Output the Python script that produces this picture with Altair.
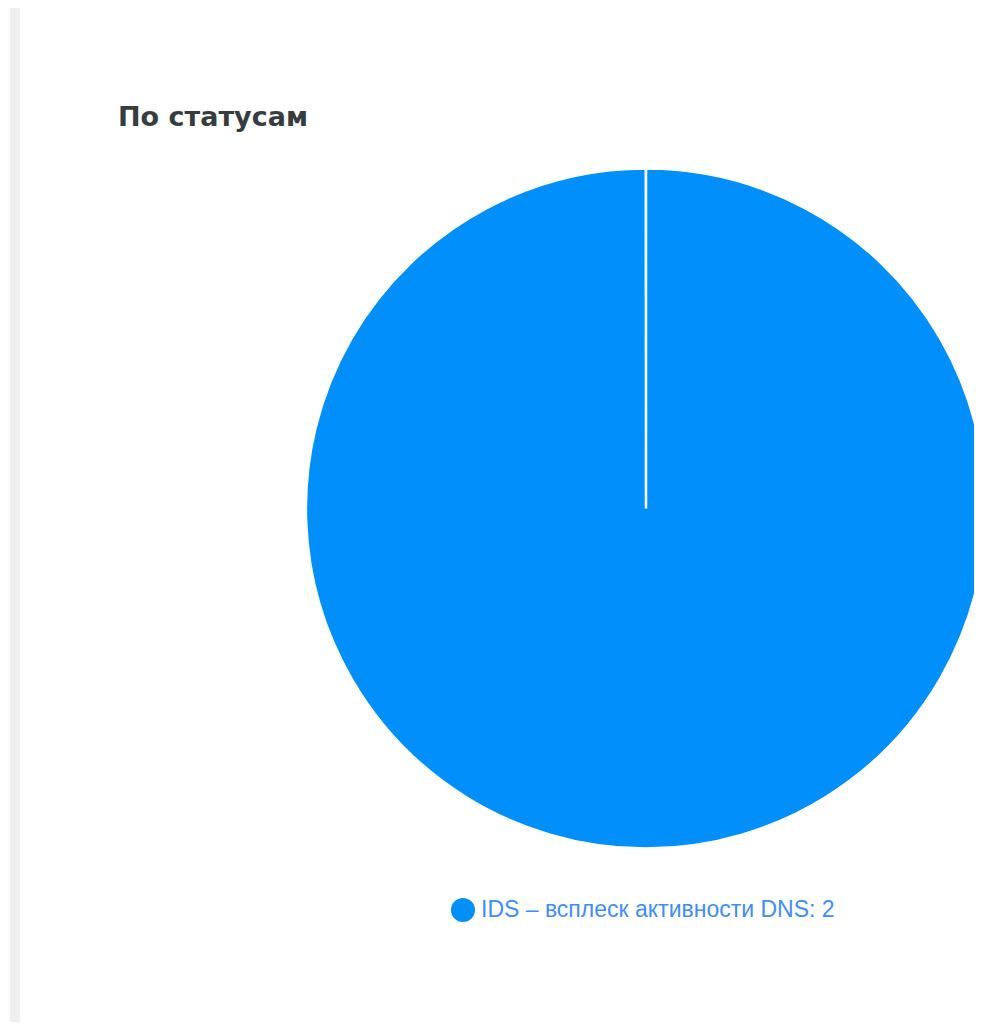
import altair as alt
import pandas as pd

categories = ["IDS – всплеск активности DNS"]
values = [2]
colors = ["#008ffb"]
title_text = "По статусам"

df = pd.DataFrame({
    "category": categories,
    "value": values,
})
df["label"] = [f"{c}: {v}" for c, v in zip(categories, values)]

W, H = 966, 1014

side_bar = alt.Chart(pd.DataFrame({"k": [0]})).mark_rect(color="#eeeff1").encode(
    x=alt.value(2), x2=alt.value(12), y=alt.value(0), y2=alt.value(H)
)

title = alt.Chart(pd.DataFrame({"t": [title_text]})).mark_text(
    font="DejaVu Sans", fontSize=27, fontWeight="bold", color="#373d3f",
    align="left", baseline="alphabetic"
).encode(x=alt.value(110), y=alt.value(118), text="t:N")

pie = alt.Chart(df).mark_arc(
    radius=340, stroke="white", strokeWidth=2.5
).encode(
    theta=alt.Theta("value:Q", stack=True,
                    scale=alt.Scale(domain=[0, sum(values)], range=[0, 6.2825])),
    color=alt.Color("label:N",
                    scale=alt.Scale(domain=list(df["label"]), range=colors),
                    legend=alt.Legend(
                        orient="none", legendX=443, legendY=890, title=None,
                        symbolType="circle", symbolSize=576, symbolStrokeWidth=0,
                        labelFont="Liberation Sans", labelFontSize=23,
                        labelColor="#3d8dfb", labelLimit=600, symbolOffset=0,
                        labelOffset=6,
                    )),
    x=alt.value(638), y=alt.value(500.5),
)

chart = alt.layer(side_bar, pie, title).properties(
    width=W, height=H, autosize=alt.AutoSizeParams(type="none"), padding=0
).configure_view(stroke=None)

chart.save("out.html", embed_options={"renderer": "svg", "actions": False})
